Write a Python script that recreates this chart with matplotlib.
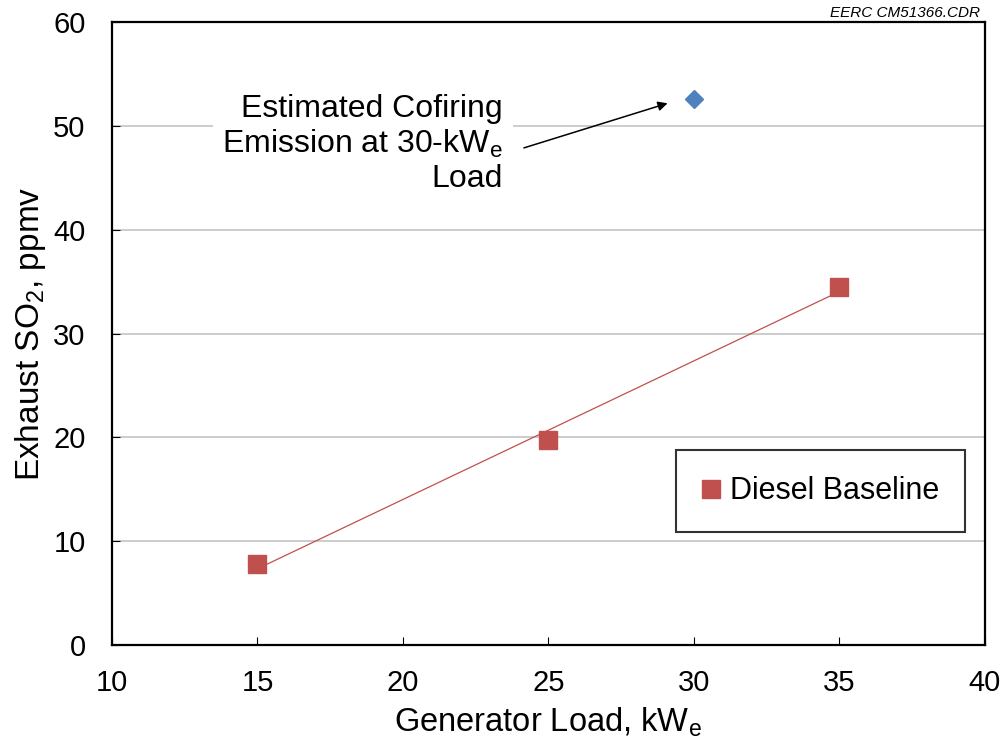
import numpy as np
import matplotlib
matplotlib.use("Agg")
import matplotlib.pyplot as plt

plt.rcParams['font.family'] = ['Liberation Sans', 'DejaVu Sans']
plt.rcParams['mathtext.fontset'] = 'custom'
plt.rcParams['mathtext.rm'] = 'Liberation Sans'

# =============================================================================
# Data
# =============================================================================

load_kw = [15, 25, 35]
so2_ppmv = [7.8, 19.8, 34.5]

cofire_load = [30]
cofire_so2 = [52.6]

x_ticks = [10, 15, 20, 25, 30, 35, 40]
y_ticks = [0, 10, 20, 30, 40, 50, 60]

red = '#C0504D'
blue = '#4F81BD'

# linear trend line through the baseline points
coef = np.polyfit(load_kw, so2_ppmv, 1)
x_fit = np.array([min(load_kw), max(load_kw)])
y_fit = np.polyval(coef, x_fit)

# =============================================================================
# Plot
# =============================================================================

fig = plt.figure(figsize=(10.03, 7.44), dpi=100)
ax = fig.add_axes([0.1117, 0.133, 0.870, 0.837])

ax.plot(x_fit, y_fit, '-', color=red, linewidth=0.9, zorder=2)
ax.plot(load_kw, so2_ppmv, 's', color=red, markersize=13.5,
        linestyle='none', label='Diesel Baseline', zorder=3)
ax.plot(cofire_load, cofire_so2, 'D', color=blue, markersize=9.5,
        linestyle='none', zorder=3)

ax.set_xlim(10, 40)
ax.set_ylim(0, 60)
ax.set_xticks(x_ticks)
ax.set_yticks(y_ticks)
ax.tick_params(direction='in', length=6, width=0.8, labelsize=21)
ax.tick_params(axis='x', pad=17)
ax.tick_params(axis='y', pad=19)

# Grid
ax.yaxis.grid(True, color='#BFBFBF', linewidth=1.1)
ax.set_axisbelow(True)
for s in ax.spines.values():
    s.set_linewidth(1.6)
    s.set_color('black')

# Labels
ax.set_xlabel(r'Generator Load, kW$_{\mathregular{e}}$', fontsize=23.5, labelpad=6)
ax.set_ylabel(r'Exhaust SO$_{\mathregular{2}}$, ppmv', fontsize=24, labelpad=4)

# Annotation
ax.text(23.44, 48.3, 'Estimated Cofiring\nEmission at 30-kW$_{\\mathregular{e}}$\nLoad',
        fontsize=23, ha='right', va='center', linespacing=1.16, zorder=4,
        bbox=dict(boxstyle='square,pad=0.3', facecolor='white', edgecolor='none'))
ax.annotate('', xy=(29.1, 52.2), xytext=(24.16, 47.9),
            arrowprops=dict(arrowstyle='-|>', color='black', linewidth=1.1,
                            mutation_scale=14, shrinkA=0, shrinkB=0), zorder=4)

# Legend
lgd = ax.legend(loc='center', bbox_to_anchor=(0.812, 0.247), fontsize=22,
                frameon=True, fancybox=False, handlelength=0.6, handletextpad=0.3,
                borderpad=0.85, markerscale=1.0)
lgd.get_frame().set_edgecolor('black')
lgd.get_frame().set_linewidth(1.5)

fig.text(0.977, 0.983, 'EERC CM51366.CDR', fontsize=11, style='italic',
         ha='right', va='center')

fig.savefig('out.png', dpi=100)
